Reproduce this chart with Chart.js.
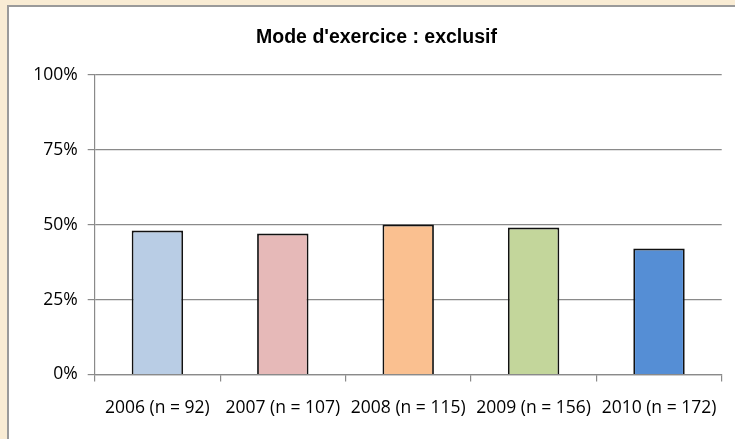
<!DOCTYPE html>
<html>
<head>
<meta charset="utf-8">
<script src="https://cdn.jsdelivr.net/npm/chart.js@4/dist/chart.umd.min.js"></script>
<style>
    html, body {
        margin: 0;
        padding: 0;
        width: 735px;
        height: 439px;
        overflow: hidden;
        background: #f9ecd4;
    }
    #frame {
        position: absolute;
        left: 7px;
        top: 5px;
        width: 780px;
        height: 480px;
        background: #fff;
        border-left: 2px solid #9a9a9a;
        border-top: 2px solid #9a9a9a;
    }
    #wrap {
        position: absolute;
        left: 9px;
        top: 7px;
        width: 726px;
        height: 432px;
    }
</style>
</head>
<body>
<div id="frame"></div>
<div id="wrap"><canvas id="chart"></canvas></div>

<script>
const chartTitle = "Mode d'exercice : exclusif";
const categories = ["2006 (n = 92)", "2007 (n = 107)", "2008 (n = 115)", "2009 (n = 156)", "2010 (n = 172)"];
const values = [48, 47, 50, 49, 42];
const barColors = ["#b9cde5", "#e6b9b8", "#fac090", "#c3d69b", "#558ed5"];
const yTicks = [0, 25, 50, 75, 100];

const gridColor = "#8a8a8a";
const labelFont = { family: "'Open Sans', sans-serif", size: 17.5 };

// narrow bold title: no Arial Narrow here, so squeeze Liberation Sans to the title width
const narrowTitle = {
    id: "narrowTitle",
    afterDraw(chart) {
        const c = chart.ctx;
        c.save();
        c.font = "bold 19.5px 'Liberation Sans', sans-serif";
        const w = c.measureText(chartTitle).width;
        c.fillStyle = "#000";
        c.textAlign = "center";
        c.textBaseline = "alphabetic";
        c.translate(367.5, 36.3);
        c.scale(Math.min(1, 245 / w), 1);
        c.fillText(chartTitle, 0, 0);
        c.restore();
    }
};

function renderChart() {
    const ctx = document.getElementById("chart");

    new Chart(ctx, {
        type: "bar",
        data: {
            labels: categories,
            datasets: [{
                data: values,
                backgroundColor: barColors,
                borderColor: "#111",
                borderWidth: 1.8,
                barPercentage: 0.41,
                categoryPercentage: 1
            }]
        },
        options: {
            responsive: true,
            maintainAspectRatio: false,
            animation: false,
            layout: { padding: { left: 0, right: 13.3, top: 67.7, bottom: 0 } },
            plugins: {
                legend: { display: false },
                tooltip: { enabled: false },
                title: { display: false }
            },
            scales: {
                x: {
                    grid: {
                        offset: true,
                        drawOnChartArea: false,
                        color: gridColor,
                        lineWidth: 1.2,
                        tickLength: 7
                    },
                    border: { color: gridColor, width: 1.2 },
                    ticks: {
                        color: "#000",
                        font: labelFont,
                        padding: 16,
                        maxRotation: 0,
                        autoSkip: false
                    },
                    afterFit: scale => { scale.height = 64.5; }
                },
                y: {
                    min: 0,
                    max: 100,
                    afterBuildTicks: scale => {
                        scale.ticks = yTicks.map(v => ({ value: v }));
                    },
                    grid: { color: gridColor, lineWidth: 1.2, tickLength: 7 },
                    border: { color: gridColor, width: 1.2 },
                    ticks: {
                        color: "#000",
                        font: labelFont,
                        padding: 10,
                        callback: v => v + "%"
                    },
                    afterFit: scale => { scale.width = 85.7; }
                }
            }
        },
        plugins: [narrowTitle]
    });
}

renderChart();
</script>
</body>
</html>
